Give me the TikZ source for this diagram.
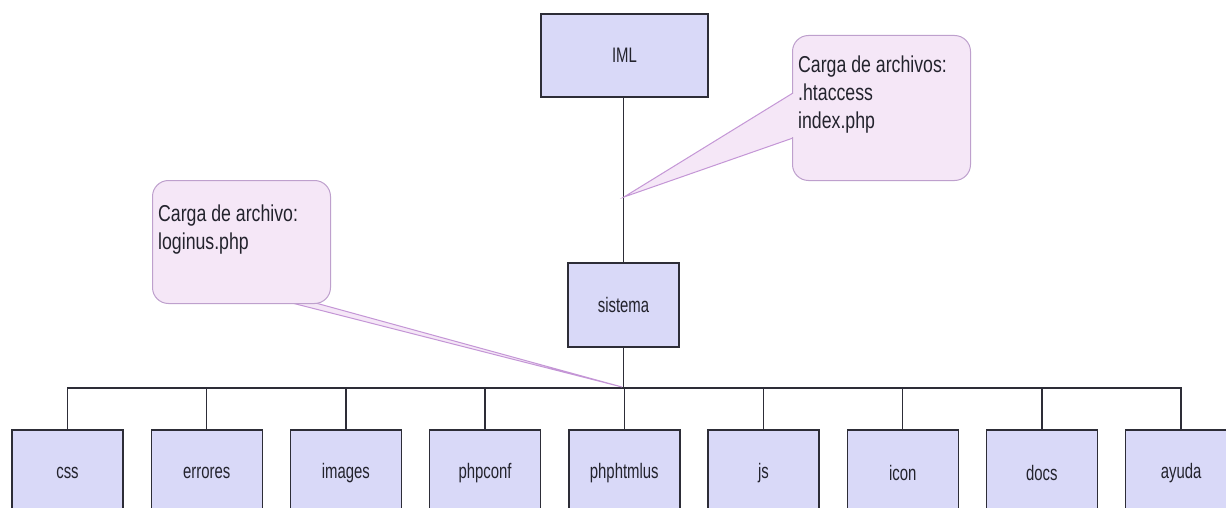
\documentclass[tikz,border=0pt]{standalone}
\usepackage{fontspec}
\usetikzlibrary{calc}
\newfontfamily\boxfont{Liberation Sans}[FakeStretch=0.71]
\newfontfamily\notefont{Liberation Sans}[FakeStretch=0.77]
\definecolor{boxfill}{RGB}{217,217,248}
\definecolor{boxline}{RGB}{45,45,55}
\definecolor{notefill}{RGB}{245,231,247}
\definecolor{noteline}{RGB}{190,160,205}
\definecolor{wedgeline}{RGB}{196,150,214}
\definecolor{textcol}{RGB}{35,35,45}
\tikzset{
  folder/.style={draw=boxline, fill=boxfill, line width=1.4pt,
    minimum width=111pt, minimum height=86pt, inner sep=0pt,
    text=textcol, font=\boxfont\fontsize{21}{25}\selectfont},
  link/.style={draw=boxline, line width=1.3pt},
  notebox/.style={draw=noteline, fill=notefill, line width=1pt,
    rounded corners=16pt, inner sep=0pt},
  notetext/.style={anchor=north west, inner sep=0pt, align=left,
    text=textcol, font=\notefont\fontsize{23}{28}\selectfont},
  wedge/.style={draw=wedgeline, fill=notefill, line width=1pt, line join=miter}
}
\begin{document}
\begin{tikzpicture}[x=1pt, y=-1pt]
\useasboundingbox (0,0) rectangle (1226,508);
\clip (0,0) rectangle (1226,508);
\fill[white] (0,0) rectangle (1226,508);

% top of the tree
\node[folder, minimum width=167pt, minimum height=83pt] (iml) at (624.5,55.5) {IML};
\node[folder, minimum height=84pt] (sis) at (623.5,305) {sistema};

% folders below sistema
\foreach \name/\lbl [count=\i from 0] in
  {css/css, err/errores, img/images, conf/phpconf, html/phphtmlus,
   js/js, icon/icon, docs/docs, ayuda/ayuda}
  \node[folder] (\name) at (67.5+139.2*\i,473) {\lbl};

% connectors
\coordinate (bus) at (sis.south |- 0,388);
\draw[link] (iml.south -| sis.south) -- (sis.north);
\draw[link] (sis.south) -- (bus);
\foreach \name in {css, err, img, conf, html, js, icon, docs, ayuda}
  \draw[link] (bus) -| (\name.north);

% callout tips
\coordinate (tipA) at (624,197);
\coordinate (tipB) at (622,387);

% callouts
\path (792,35) coordinate (noteAnw);
\path (152,180) coordinate (noteBnw);
\draw[wedge] ($(noteAnw)+(1,58)$) -- (tipA) -- ($(noteAnw)+(1,103)$);
\draw[wedge] ($(noteBnw)+(136,122)$) -- (tipB) -- ($(noteBnw)+(160,122)$);
\node[notebox, anchor=north west, minimum width=178pt, minimum height=145pt]
  (noteA) at (noteAnw) {};
\node[notebox, anchor=north west, minimum width=178pt, minimum height=123pt]
  (noteB) at (noteBnw) {};
\fill[notefill] ($(noteAnw)+(-0.2,59)$) rectangle ($(noteAnw)+(1.5,102)$);
\fill[notefill] ($(noteBnw)+(137,122.6)$) rectangle ($(noteBnw)+(159,121)$);
\node[notetext] (noteAtext) at ($(noteA.north west)+(6,21)$)
  {Carga de archivos:\\.htaccess\\index.php};
\node[notetext] (noteBtext) at ($(noteB.north west)+(6,25)$)
  {Carga de archivo:\\loginus.php};
\end{tikzpicture}
\end{document}
